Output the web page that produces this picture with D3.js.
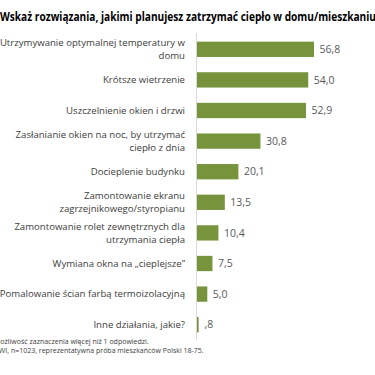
<!DOCTYPE html>
<html>
<head>
<meta charset="utf-8">
<script src="https://cdn.jsdelivr.net/npm/d3@7"></script>
<style>
  html, body { margin: 0; padding: 0; background: #fff; }
  svg { display: block; font-family: "Open Sans", "Noto Sans", sans-serif; }
</style>
</head>
<body>
<div id="chart"></div>
<script>
// Dane
const categories = [
  ["Utrzymywanie optymalnej temperatury w", "domu"],
  ["Krótsze wietrzenie"],
  ["Uszczelnienie okien i drzwi"],
  ["Zasłanianie okien na noc, by utrzymać", "ciepło z dnia"],
  ["Docieplenie budynku"],
  ["Zamontowanie ekranu", "zagrzejnikowego/styropianu"],
  ["Zamontowanie rolet zewnętrznych dla", "utrzymania ciepła"],
  ["Wymiana okna na „cieplejsze\u201D"],
  ["Pomalowanie ścian farbą termoizolacyjną"],
  ["Inne działania, jakie?"]
];
const values = [56.8, 54.0, 52.9, 30.8, 20.1, 13.5, 10.4, 7.5, 5.0, 0.8];

const title = "Wskaż rozwiązania, jakimi planujesz zatrzymać ciepło w domu/mieszkaniu";
const notes = [
  "Możliwość zaznaczenia więcej niż 1 odpowiedzi.",
  "CAWI, n=1023, reprezentatywna próba mieszkańców Polski 18-75."
];

const W = 375, H = 375;
const svg = d3.select("#chart").append("svg")
  .attr("width", W).attr("height", H);

const idx = d3.range(values.length);
const y = d3.scaleBand().domain(idx).range([34, 340]).paddingInner(0.5).paddingOuter(0.25);
const x = d3.scaleLinear().domain([0, 56.8]).range([196.5, 313.5]);

// format polski: przecinek, bez zera wiodącego dla <1
const fmt = v => {
  const s = d3.format(".1f")(v).replace(".", ",");
  return v < 1 ? s.replace(/^0/, "") : s;
};

// tytuł
svg.append("text")
  .attr("x", 0).attr("y", 21)
  .attr("font-size", 12).attr("font-weight", "bold")
  .attr("fill", "#000")
  .attr("textLength", 376).attr("lengthAdjust", "spacingAndGlyphs")
  .text(title);

// oś pionowa
svg.append("line")
  .attr("x1", x(0)).attr("x2", x(0))
  .attr("y1", 33).attr("y2", 340)
  .attr("stroke", "#d9d9d9").attr("stroke-width", 1);

// słupki
svg.append("g").selectAll("rect")
  .data(values)
  .join("rect")
    .attr("x", x(0) + 0.5)
    .attr("y", (d, i) => y(i))
    .attr("width", d => Math.max(1.5, x(d) - x(0)))
    .attr("height", y.bandwidth())
    .attr("fill", "#77933C");

// etykiety wartości
svg.append("g").selectAll("text")
  .data(values)
  .join("text")
    .attr("x", d => Math.max(x(d), x(0) + 2) + 6)
    .attr("y", (d, i) => y(i) + y.bandwidth() / 2)
    .attr("dy", "0.35em")
    .attr("font-size", 10.5)
    .attr("fill", "#595959")
    .text(fmt);

// etykiety kategorii
const lab = svg.append("g").selectAll("text")
  .data(categories)
  .join("text")
    .attr("text-anchor", "end")
    .attr("font-size", 9.6)
    .attr("fill", "#404040")
    .attr("y", (d, i) => y(i) + y.bandwidth() / 2);
lab.selectAll("tspan")
  .data(d => d.map((t, k) => ({ t, k, n: d.length })))
  .join("tspan")
    .attr("x", 185)
    .attr("dy", d => d.k === 0 ? `${0.35 - (d.n - 1) * 0.68}em` : "1.36em")
    .text(d => d.t);

// przypisy
svg.append("g").selectAll("text")
  .data(notes)
  .join("text")
    .attr("x", (d, i) => i === 0 ? -6 : -10)
    .attr("y", (d, i) => 343.5 + i * 9)
    .attr("font-size", 7)
    .attr("fill", "#404040")
    .text(d => d);
</script>
</body>
</html>
